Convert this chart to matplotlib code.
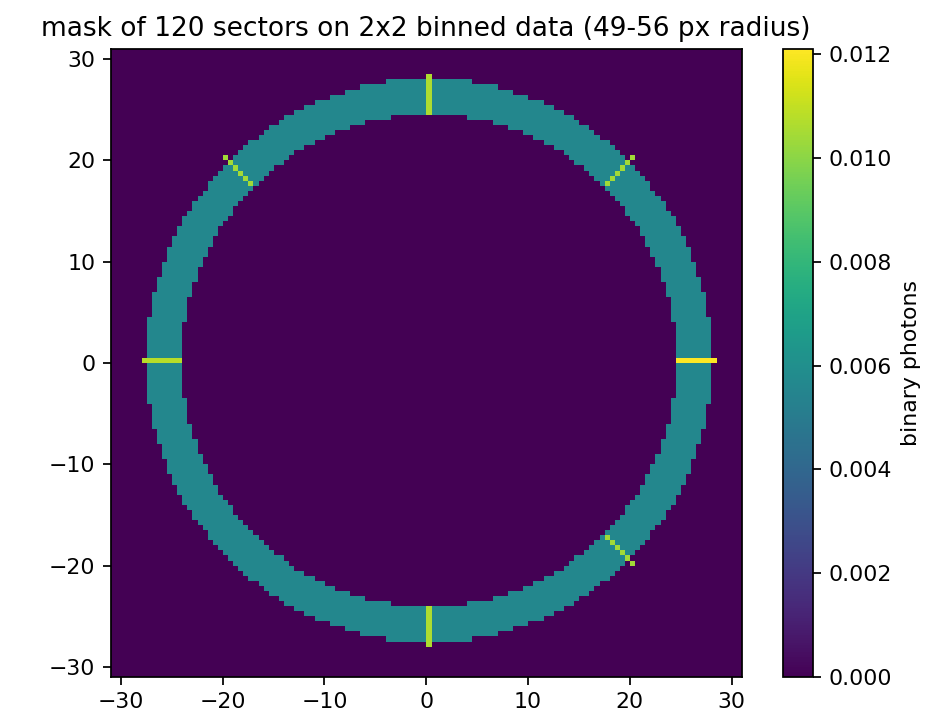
import numpy as np
import matplotlib
matplotlib.use("Agg")
import matplotlib.pyplot as plt

# Binned detector grid (axis units = binned pixels / 2)
extent = [-31.0, 31.0, -31.0, 31.0]
pixel_size = 0.5

# Annular mask geometry
ring_center = [0.25, 0.25]
ring_radii = [24.3, 27.8]
ring_level = 0.0056

# Sector boundaries that get counted twice (brighter pixels)
boundary_angles_deg = [0, 45, 90, 135, 180, 270, 315]
boundary_levels = [0.0121, 0.0104, 0.0106, 0.0104, 0.0108, 0.0106, 0.0104]
boundary_overshoot = 0.5

title = "mask of 120 sectors on 2x2 binned data (49-56 px radius)"
cbar_label = "binary photons"

# Build the image
xc = np.arange(extent[0] + pixel_size / 2, extent[1], pixel_size)
yc = np.arange(extent[2] + pixel_size / 2, extent[3], pixel_size)
X, Y = np.meshgrid(xc, yc)
dx = X - ring_center[0]
dy = Y - ring_center[1]
R = np.hypot(dx, dy)

img = np.zeros_like(R)
img[(R >= ring_radii[0]) & (R <= ring_radii[1])] = ring_level

for ang, lvl in zip(boundary_angles_deg, boundary_levels):
    a = np.deg2rad(ang)
    along = dx * np.cos(a) + dy * np.sin(a)
    perp = -dx * np.sin(a) + dy * np.cos(a)
    sel = (np.abs(perp) < 0.1) & (along >= ring_radii[0]) & \
          (along <= ring_radii[1] + boundary_overshoot)
    img[sel] = lvl

DPI = 158.5
fig = plt.figure(figsize=(933 / DPI, 722 / DPI), dpi=DPI)
W, H = 933.0, 722.0
ax = fig.add_axes([110.7 / W, (H - 677) / H, 631 / W, 628 / H])
cax = fig.add_axes([783 / W, (H - 677) / H, 30 / W, 628 / H])

im = ax.imshow(img, origin="lower", extent=extent, cmap="viridis",
               interpolation="nearest", aspect="auto",
               vmin=0, vmax=img.max())
ax.set_xticks([-30, -20, -10, 0, 10, 20, 30])
ax.set_yticks([-30, -20, -10, 0, 10, 20, 30])
ax.set_title(title)

cb = fig.colorbar(im, cax=cax)
cb.set_label(cbar_label)
cb.set_ticks([0.0, 0.002, 0.004, 0.006, 0.008, 0.010, 0.012])

fig.savefig("out.png", dpi=DPI)
